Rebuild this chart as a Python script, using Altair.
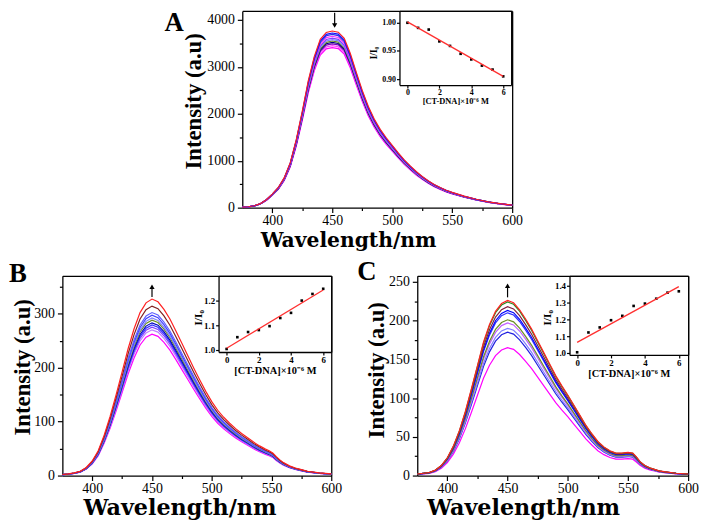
import altair as alt
import pandas as pd

W, H = 700, 514
FONT = "'Liberation Serif', 'Times New Roman', Times, serif"
WIDE = "'DejaVu Serif', serif"

# ---------------- values ----------------
# Panel A: top (red) emission curve, and peak heights of all curves
wl_A = [375, 380, 385, 390, 395, 400, 405, 410, 415, 420, 425, 430, 435, 440, 445, 450, 455, 460,
        465, 470, 475, 480, 485, 490, 495, 500, 505, 510, 515, 520, 525, 530, 535, 540, 545, 550,
        560, 570, 580, 590, 600]
top_A = [10, 20, 40, 85, 170, 290, 430, 640, 960, 1450, 2050, 2700, 3220, 3590, 3735, 3765, 3740, 3610,
         3290, 2890, 2500, 2160, 1890, 1670, 1490, 1330, 1170, 1020, 890, 770, 665, 575, 495, 430, 372, 325,
         245, 180, 125, 85, 55]
peaks_A = [3762, 3720, 3690, 3650, 3610, 3580, 3550, 3520, 3490, 3450, 3410]
colors_A = ["#ff2020", "#1010ff", "#3030e0", "#ff30ff", "#8040ff", "#8080ff", "#6b8e23",
            "#000080", "#8000c0", "#ff40ff", "#ff00ff"]

# Panel B
wl_B = [375, 380, 385, 390, 395, 400, 405, 410, 415, 420, 425, 430, 435, 440, 445, 450, 455, 460,
        465, 470, 475, 480, 485, 490, 495, 500, 505, 510, 515, 520, 525, 530, 535, 540, 545, 548,
        551, 554, 557, 560, 565, 570, 575, 580, 590, 600]
top_B = [2, 3, 5, 8, 15, 27, 46, 75, 110, 150, 192, 235, 272, 302, 320, 327, 322, 308,
         290, 268, 245, 222, 199, 177, 156, 137, 121, 108, 97, 87, 78, 70, 62, 55, 49, 46,
         42, 35, 29, 24, 18, 14, 11, 8, 5, 3]
peaks_B = [327, 314, 302, 297, 292, 288, 283, 279, 275, 270, 262]
colors_B = ["#ff2020", "#802020", "#6060ff", "#4040ff", "#8080ff", "#6b8e23", "#0000c0",
            "#3030ff", "#8040ff", "#c080ff", "#ff00ff"]

# Panel C
wl_C = [375, 380, 385, 390, 395, 400, 405, 410, 415, 420, 425, 430, 435, 440, 445, 450, 455, 460,
        465, 470, 475, 480, 485, 490, 495, 500, 505, 510, 515, 520, 525, 530, 535, 540, 545, 550,
        554, 557, 560, 564, 568, 572, 576, 580, 590, 600]
top_C = [2, 3, 4, 7, 13, 23, 38, 58, 83, 112, 142, 172, 195, 212, 222, 226, 223, 214,
         202, 189, 174, 159, 144, 129, 116, 104, 91, 78, 65, 54, 44, 37, 32, 29, 29, 30,
         29, 24, 18, 13, 10, 8, 6, 5, 3, 2]
peaks_C = [226, 224, 218, 213, 210, 201, 197, 190, 185, 165]
colors_C = ["#ff2020", "#2e8b22", "#802040", "#0000ff", "#3030ff", "#6b8e23", "#c060ff",
            "#8080ff", "#2020e0", "#ff00ff"]

# Insets: I/I0 versus [CT-DNA] (x10^-6 M)
conc = [0, 0.667, 1.333, 2, 2.667, 3.333, 4, 4.667, 5.333, 6]
ratio_A = [1.000, 0.991, 0.988, 0.967, 0.959, 0.945, 0.935, 0.924, 0.917, 0.905]
ratio_B = [1.003, 1.051, 1.072, 1.080, 1.096, 1.129, 1.150, 1.200, 1.227, 1.248]
ratio_C = [1.004, 1.122, 1.152, 1.195, 1.221, 1.280, 1.294, 1.323, 1.359, 1.367]
fit_x = [0, 6]
fit_A = [1.0015, 0.905]
fit_B = [1.006, 1.243]
fit_C = [1.063, 1.395]

# arrows (wavelength, start, end)
arrow_A = (452, 4150, 3880)
arrow_B = (450, 331, 350)
arrow_C = (450, 230, 245)


# ---------------- helpers ----------------
def spectra_df(wl, top, peaks, colors):
    rows = []
    tmax = max(top)
    for k in range(len(peaks) - 1, -1, -1):
        for w, v in zip(wl, top):
            rows.append({"wl": w, "I": v * peaks[k] / tmax, "curve": k, "color": colors[k]})
    return pd.DataFrame(rows)


def sc(domain, rng):
    return alt.Scale(domain=domain, range=rng, nice=False, zero=False)


def ax(orient, offset, **kw):
    base = dict(orient=orient, offset=offset, grid=False, domainColor="black", tickColor="black",
                labelColor="black", titleColor="black", labelFont=FONT, titleFont=FONT,
                labelFlush=False, labelOverlap=False, domainWidth=1.3, tickWidth=1.2)
    base.update(kw)
    return alt.Axis(**base)


def frame(orient, offset):
    return ax(orient, offset, labels=False, ticks=False, title=None)


def panel(df, xr, yr, ydom, yvals, yminor, ytitle_xy, xtitle_size, xtitle_x, arrow, up,
          ratio, fit, ixr, iyr, ixdom, iydom, iyvals, iyfmt, ilab, ititle, ixtitle_y, iytitle_xy):
    xdom = [375, 600]
    xb = xr[0]
    xe = xr[1]
    ybot = yr[0]
    ytop = yr[1]
    layers = []
    # spectra
    layers.append(
        alt.Chart(df).mark_line(strokeWidth=1.2).encode(
            x=alt.X("wl:Q", scale=sc(xdom, xr),
                    axis=ax("bottom", ybot - H, values=[400, 450, 500, 550, 600], format="d",
                            labelFontSize=14, tickSize=5, labelPadding=1,
                            title="Wavelength/nm", titleFont=WIDE, titleFontSize=xtitle_size,
                            titleFontWeight="bold", titleBaseline="alphabetic",
                            titleX=xtitle_x, titleY=39)),
            y=alt.Y("I:Q", scale=sc(ydom, yr),
                    axis=ax("left", -xb, values=yvals, format="d", labelFontSize=14, tickSize=5,
                            labelPadding=3, title="Intensity (a.u)", titleFontSize=23,
                            titleFontWeight="bold", titleBaseline="middle",
                            titleX=ytitle_xy[0], titleY=ytitle_xy[1])),
            detail="curve:N",
            color=alt.Color("color:N", scale=None),
        )
    )
    # arrow shaft + frame (top/right)
    adf = pd.DataFrame({"x": [arrow[0]], "y1": [arrow[1]], "y2": [arrow[2]]})
    layers.append(
        alt.Chart(adf).mark_rule(color="black", strokeWidth=1.2).encode(
            x=alt.X("x:Q", scale=sc(xdom, xr), axis=frame("top", -ytop)),
            y=alt.Y("y1:Q", scale=sc(ydom, yr), axis=frame("right", xe - W)),
            y2="y2:Q",
        )
    )
    # arrow head + minor ticks
    hdf = pd.DataFrame({"x": [arrow[0]], "y": [arrow[2]]})
    layers.append(
        alt.Chart(hdf).mark_point(shape="triangle-up" if up else "triangle-down", filled=True,
                                  size=28, color="black", opacity=1).encode(
            x=alt.X("x:Q", scale=sc(xdom, xr),
                    axis=ax("bottom", ybot - H, values=[425, 475, 525, 575], labels=False,
                            domain=False, tickSize=3, title=None)),
            y=alt.Y("y:Q", scale=sc(ydom, yr),
                    axis=ax("left", -xb, values=yminor, labels=False, domain=False,
                            tickSize=3, title=None)),
        )
    )
    # inset points
    idf = pd.DataFrame({"c": conc, "r": ratio})
    layers.append(
        alt.Chart(idf).mark_square(size=7, color="black", opacity=1).encode(
            x=alt.X("c:Q", scale=sc(ixdom, ixr),
                    axis=ax("bottom", iyr[0] - H, values=[0, 2, 4, 6], format="d",
                            labelFontSize=ilab, labelFontWeight="bold", tickSize=3, labelPadding=1,
                            title="[CT-DNA]×10⁻⁶ M", titleFontSize=ititle, titleFontWeight="bold",
                            titleBaseline="middle", titleY=ixtitle_y)),
            y=alt.Y("r:Q", scale=sc(iydom, iyr),
                    axis=ax("left", -ixr[0], values=iyvals, format=iyfmt,
                            labelFontSize=ilab, labelFontWeight="bold", tickSize=3, labelPadding=1,
                            title="I/I₀", titleFontSize=ititle + 1, titleFontWeight="bold",
                            titleBaseline="middle", titleX=iytitle_xy[0], titleY=iytitle_xy[1])),
        )
    )
    # inset fit line + inset frame
    fdf = pd.DataFrame({"c": fit_x, "r": fit})
    layers.append(
        alt.Chart(fdf).mark_line(color="#ff3030", strokeWidth=1.3).encode(
            x=alt.X("c:Q", scale=sc(ixdom, ixr), axis=frame("top", -iyr[1])),
            y=alt.Y("r:Q", scale=sc(iydom, iyr), axis=frame("right", ixr[1] - W)),
        )
    )
    return layers


def letter(t, x, y):
    return alt.Chart(pd.DataFrame({"t": [t]})).mark_text(
        font=FONT, fontSize=27, fontWeight="bold", align="center", baseline="alphabetic",
        color="black").encode(x=alt.value(x), y=alt.value(y), text="t:N")


layers = []
layers += panel(spectra_df(wl_A, top_A, peaks_A, colors_A), [237, 510], [199, 0], [0, 4190],
                [0, 1000, 2000, 3000, 4000], [500, 1500, 2500, 3500], (-49, 91), 20.5, 344,
                arrow_A, False, ratio_A, fit_A, [396, 509], [75, 0], [-0.5, 6.5], [0.8895, 1.021],
                [0.90, 0.95, 1.00], ".2f", 8, 8.5, 16, (-26, 42))
layers += panel(spectra_df(wl_B, top_B, peaks_B, colors_B), [55, 327], [470, 268], [0, 370],
                [0, 100, 200, 300], [50, 150, 250, 350], (-40.5, 360), 22.5, 173.5,
                arrow_B, True, ratio_B, fit_B, [213, 327], [345, 268], [-0.5, 6.5], [0.9907, 1.3006],
                [1.0, 1.1, 1.2], ".1f", 9, 10.5, 18.5, (-20, 310))
layers += panel(spectra_df(wl_C, top_C, peaks_C, colors_C), [414, 688], [470, 268], [0, 257.7],
                [0, 50, 100, 150, 200, 250], [25, 75, 125, 175, 225], (-41, 363), 22.5, 521,
                arrow_C, True, ratio_C, fit_C, [568, 688], [348, 268], [-0.45, 6.55], [0.988, 1.459],
                [1.0, 1.1, 1.2, 1.3, 1.4], ".1f", 9, 10.5, 18.5, (-22, 310))
layers += [letter("A", 168, 20), letter("B", 10, 274), letter("C", 363, 272)]

chart = alt.layer(*layers).resolve_scale(
    x="independent", y="independent"
).resolve_axis(
    x="independent", y="independent"
).properties(
    width=W, height=H, autosize=alt.AutoSizeParams(type="none"), padding=0, background="white"
).configure_view(stroke=None).configure_axis(grid=False)

chart.save("out.html", embed_options={"renderer": "svg", "actions": False})
